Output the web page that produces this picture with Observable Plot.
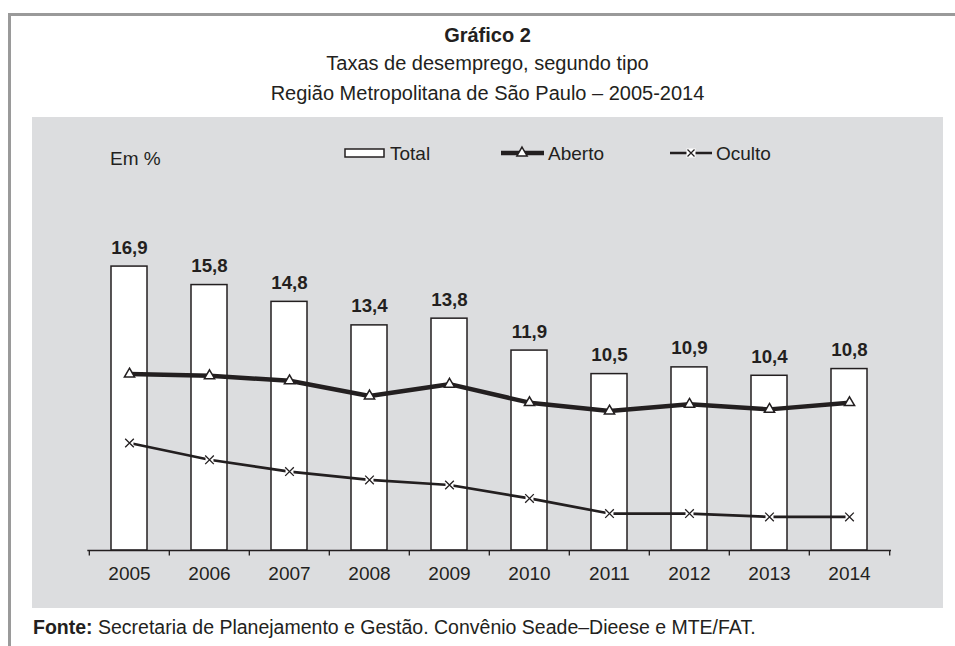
<!DOCTYPE html>
<html><head><meta charset="utf-8">
<script src="https://cdn.jsdelivr.net/npm/d3@7"></script>
<script src="https://cdn.jsdelivr.net/npm/@observablehq/plot@0.6"></script>
<style>
body{margin:0;background:#fff;font-family:"Liberation Sans",Arial,sans-serif;color:#231f20;}
#page{position:relative;width:955px;height:646px;overflow:hidden;background:#fff}
.frame-top{position:absolute;left:8px;top:13px;width:947px;height:3px;background:#9a9a9a}
.frame-left{position:absolute;left:8px;top:13px;width:3px;height:633px;background:#9a9a9a}
.t{position:absolute;left:32px;width:911px;text-align:center;font-size:20px;line-height:24px;white-space:nowrap}
#panel{position:absolute;left:32px;top:117px;width:911px;height:491px;background:#dcdddf}
#legend{position:absolute;left:0;top:0}
#footer{position:absolute;left:33px;top:616px;font-size:19.5px;line-height:22px;white-space:nowrap}
</style>
</head><body>
<div id="page">
  <div class="frame-top"></div>
  <div class="frame-left"></div>
  <div class="t" style="top:23px;font-weight:bold">Gráfico 2</div>
  <div class="t" style="top:51px">Taxas de desemprego, segundo tipo</div>
  <div class="t" style="top:81px">Região Metropolitana de São Paulo – 2005-2014</div>
  <div id="panel"></div>
  <div id="footer"><b>Fonte:</b> Secretaria de Planejamento e Gestão. Convênio Seade–Dieese e MTE/FAT.</div>
</div>
<script>
const years = ["2005","2006","2007","2008","2009","2010","2011","2012","2013","2014"];
const total = [16.9,15.8,14.8,13.4,13.8,11.9,10.5,10.9,10.4,10.8];
const aberto = [10.5,10.4,10.1,9.2,9.9,8.8,8.3,8.7,8.4,8.8];
const oculto = [6.4,5.4,4.7,4.2,3.9,3.1,2.2,2.2,2.0,2.0];
const seriesNames = ["Total","Aberto","Oculto"];
const unitLabel = "Em %";

const data = years.map((y,i)=>({year:y,total:total[i],aberto:aberto[i],oculto:oculto[i]}));
const fmt = v => v.toFixed(1).replace(".", ",");
const ink = "#231f20";
const W=911,H=491,mL=55.3,mR=52,mT=97,mB=58;
const step = (W-mL-mR)/years.length;

const chart = Plot.plot({
  width:W, height:H, marginLeft:mL, marginRight:mR, marginTop:mT, marginBottom:mB,
  style:{background:"transparent", fontFamily:'"Liberation Sans", Arial, sans-serif', fontSize:"19px", color:ink, overflow:"visible"},
  x:{type:"band", domain:years, paddingInner:0.546, paddingOuter:0.273, align:0.5, label:null},
  y:{domain:[0,20], axis:null},
  marks:[
    Plot.barY(data,{x:"year",y:"total",fill:"#fff",stroke:ink,strokeWidth:1.5}),
    Plot.ruleY([0],{stroke:ink,strokeWidth:1.3}),
    Plot.ruleX(years,{x:d=>d,y1:0,y2:-0.33,dx:-step/2,stroke:ink,strokeWidth:1.3}),
    Plot.ruleX(years.slice(-1),{x:d=>d,y1:0,y2:-0.33,dx:step/2,stroke:ink,strokeWidth:1.3}),
    Plot.axisX({tickSize:0,tickPadding:16,fontSize:19,label:null,fill:ink}),
    Plot.line(data,{x:"year",y:"aberto",stroke:ink,strokeWidth:4.5}),
    Plot.dot(data,{x:"year",y:"aberto",symbol:"triangle",r:3.8,fill:"#fff",stroke:ink,strokeWidth:1.5}),
    Plot.line(data,{x:"year",y:"oculto",stroke:ink,strokeWidth:2.7}),
    Plot.dot(data,{x:"year",y:"oculto",symbol:"square",r:4.5,fill:"#fff",stroke:"none"}),
    Plot.dot(data,{x:"year",y:"oculto",symbol:"times",r:4,stroke:ink,strokeWidth:1.3}),
    Plot.text(data,{x:"year",y:"total",text:d=>fmt(d.total),dy:-19,fontWeight:"bold",fontSize:18.7,fill:ink})
  ]
});
document.getElementById("panel").appendChild(chart);

// Legend (overlay SVG)
const lg = d3.select("#page").append("svg").attr("id","legend")
  .attr("width",955).attr("height",646).style("position","absolute").style("left","0").style("top","0");
const ly = 153;
const fs = 19;
lg.append("text").attr("x",110).attr("y",158).attr("dy","0.35em").attr("font-size",fs).attr("fill",ink).text(unitLabel);
// Total
lg.append("rect").attr("x",345).attr("y",ly-4).attr("width",39).attr("height",8).attr("fill","#fff").attr("stroke",ink).attr("stroke-width",1.5);
lg.append("text").attr("x",390).attr("y",ly).attr("dy","0.35em").attr("font-size",fs).attr("fill",ink).text(seriesNames[0]);
// Aberto
lg.append("line").attr("x1",501).attr("x2",544).attr("y1",ly).attr("y2",ly).attr("stroke",ink).attr("stroke-width",4.5);
lg.append("path").attr("transform",`translate(522,${ly})`).attr("d",d3.symbol(d3.symbolTriangle,Math.PI*3.8*3.8)()).attr("fill","#fff").attr("stroke",ink).attr("stroke-width",1.5);
lg.append("text").attr("x",548).attr("y",ly).attr("dy","0.35em").attr("font-size",fs).attr("fill",ink).text(seriesNames[1]);
// Oculto
lg.append("line").attr("x1",670).attr("x2",712).attr("y1",ly).attr("y2",ly).attr("stroke",ink).attr("stroke-width",2.7);
lg.append("rect").attr("x",686.5).attr("y",ly-4.5).attr("width",9).attr("height",9).attr("fill","#fff");
lg.append("path").attr("transform",`translate(691,${ly})`).attr("d","M-3.5,-3.5L3.5,3.5M-3.5,3.5L3.5,-3.5").attr("stroke",ink).attr("stroke-width",1.3);
lg.append("text").attr("x",716).attr("y",ly).attr("dy","0.35em").attr("font-size",fs).attr("fill",ink).text(seriesNames[2]);
lg.selectAll("text").attr("font-family",'"Liberation Sans", Arial, sans-serif');
</script>
</body></html>
